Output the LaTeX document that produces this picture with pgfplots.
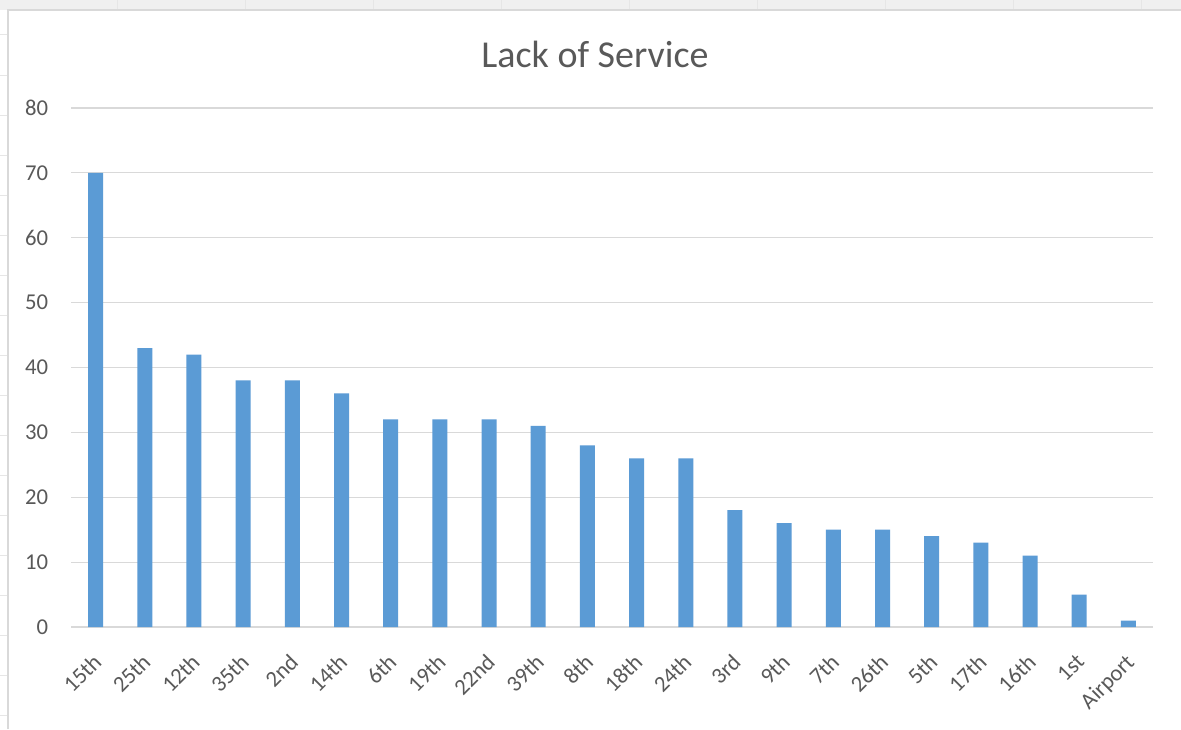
\documentclass[border=0pt]{standalone}
\usepackage{pgfplots}
\pgfplotsset{compat=1.18}
\usepackage{fontspec}
\setmainfont{Carlito}
\definecolor{barblue}{HTML}{5B9BD5}
\definecolor{gridgray}{HTML}{D9D9D9}
\definecolor{labelgray}{HTML}{595959}
\definecolor{sheetgray}{HTML}{E6E6E6}

\begin{document}
\begin{tikzpicture}
% sheet area in pixel units, origin at top left
\begin{scope}[x=0.75pt,y=-0.75pt]
  \path[use as bounding box] (0,0) rectangle (1181,729);
  \fill[white] (0,0) rectangle (1181,729);
  % spreadsheet grid behind the chart
  \fill[sheetgray!60] (0,0) rectangle (1181,10);
  \foreach \cx in {117,245,373,501,629,757,885,1013,1141}
    \draw[sheetgray,line width=0.75pt] (\cx,0) -- (\cx,10);
  \foreach \ry in {34,75,115,155,195,235,275,315,355,395,435,475,515,555,595,635,675,715}
    \draw[sheetgray,line width=0.75pt] (0,\ry) -- (8,\ry);
  % chart frame
  \draw[gridgray,line width=1pt] (8,729) -- (8,10) -- (1181,10);
  % title
  \node[font=\fontsize{28.5}{34}\selectfont, text=labelgray, anchor=base] at (595,67) {Lack of Service};
\end{scope}

\begin{axis}[
  at={(53.25pt,-470.25pt)}, anchor=south west,
  scale only axis,
  width=811.5pt, height=389.25pt,
  xmin=-0.5, xmax=21.5,
  ymin=0, ymax=80,
  ytick={0,10,...,80},
  xtick=data,
  xticklabels={15th,25th,12th,35th,2nd,14th,6th,19th,22nd,39th,8th,18th,24th,3rd,9th,7th,26th,5th,17th,16th,1st,Airport},
  axis line style={draw=none},
  major tick style={draw=none},
  ymajorgrids,
  grid style={gridgray,line width=0.9pt},
  /pgf/number format/assume math mode=true,
  tick label style={font=\fontsize{17}{20}\selectfont, text=labelgray},
  yticklabel style={inner sep=0pt, xshift=-17pt},
  xticklabel style={xshift=-3pt, yshift=-19pt, rotate=45, anchor=north east, inner sep=0pt},
]
\addplot[ybar, bar width=11.25pt, fill=barblue, draw=none] coordinates {
  (0,70) (1,43) (2,42) (3,38) (4,38) (5,36) (6,32) (7,32) (8,32) (9,31) (10,28)
  (11,26) (12,26) (13,18) (14,16) (15,15) (16,15) (17,14) (18,13) (19,11) (20,5) (21,1)
};
\end{axis}
\end{tikzpicture}
\end{document}
